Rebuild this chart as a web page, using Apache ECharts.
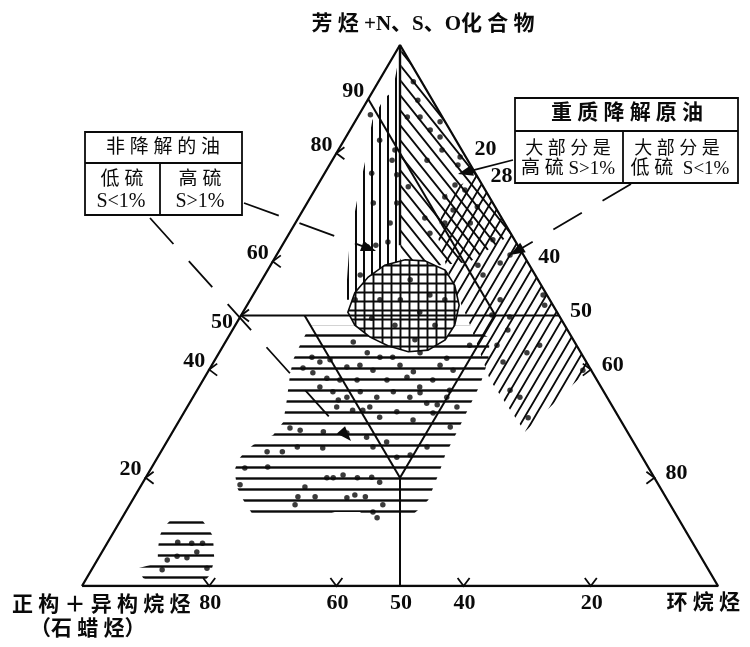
<!DOCTYPE html>
<html><head><meta charset="utf-8">
<script src="https://cdn.jsdelivr.net/npm/echarts/dist/echarts.min.js"></script>
<style>html,body{margin:0;padding:0;background:#fff}#c{width:750px;height:647px}</style>
</head><body><div id="c"></div>
<script>
// ===== DATA (ternary compositions: [aromatic+NSO %, naphthene %]; paraffin = 100 - A - N) =====
const leftTicks = [20, 40, 50, 60, 80, 90];          // aromatic %
const leftChevrons = [20, 40, 50, 60, 80];
const rightTicks = [20, 25, 40, 50, 60, 80];         // naphthene %
const rightTickLabels = ['20', '28', '40', '50', '60', '80'];
const rightChevrons = [60, 80];
const bottomTicks = [80, 60, 50, 40, 20];            // paraffin %
const bottomChevrons = [80, 60, 40, 20];

const triangle = [[0, 0], [100, 0], [0, 100], [0, 0]];
const lineA50 = [[50, 0], [50, 50]];
const lineP40 = [[50, 10], [20, 40]];
const lineN40 = [[50, 40], [20, 40]];
const linePNlow = [[20, 40], [0, 50]];
const lineP10 = [[90, 0], [50, 40]];
const linePNhigh = [[100, 0], [63, 18.5]];

const regionVertical = [[99, 0.5], [91.3, 3.2], [90.2, 2.4], [86.1, 2.6], [78.7, 5.2], [71.3, 7.6], [64, 10.1], [52.9, 15.0], [52.9, 23.6]];
const regionDiagDown = [[99.4, 0.5], [65, 35], [59.9, 31], [59.3, 26.6], [59.9, 20.1]];
const regionDiagUp = [[76, 24], [72.3, 21], [64.9, 23.4], [56.6, 29.6], [49.2, 36.1], [38.1, 45.1], [28.5, 55.4], [40.3, 59.7]];
const regionHoriz = [[48.1, 11.8], [48.1, 37.0], [45.8, 41.2], [41.8, 43.0], [37.2, 44.0], [33.5, 44.3], [28.8, 44.7], [24.2, 45.0], [21.4, 45.6], [17.7, 46.2], [15.9, 46.5], [14.0, 45.8], [12.0, 44.8], [12.0, 38.5], [13.7, 36.9], [13.7, 32.9], [12.0, 29.4], [12.0, 21.5], [14.0, 19.4], [15.9, 17.4], [18.3, 15.2], [21.4, 13.3], [23.3, 12.9], [24.8, 13.2], [26.1, 13.9], [27.9, 16.1], [30.3, 16.5], [34.4, 15.0], [39.0, 13.2], [41.8, 12.3], [44.6, 12.0]];
const regionSmall = [[12.0, 7.8], [12.0, 13.0], [10.5, 14.7], [9.2, 16.0], [4.8, 18.4], [3.3, 18.8], [1.85, 19.05], [0.37, 18.7], [0.37, 11.3], [1.5, 8.85], [3.3, 7.15], [4.25, 9.8], [6.65, 8.6], [9.2, 7.6], [10.7, 7.4]];
const regionBlob = [[50.6, 16.5], [54.2, 15.8], [57.1, 16.45], [59.3, 17.95], [60.3, 20.65], [60.1, 23.85], [58.4, 27.9], [55.6, 30.8], [51.9, 33.35], [48.2, 34.5], [45.5, 34.35], [43.6, 32.6], [43.3, 29.65], [44.4, 25.9], [46.0, 22.3], [48.2, 18.8]];

const samples = [
 [87.1,1.8],[76.3,7.4],[70.8,10.4],[80.6,8.9],[76.0,11.5],[70.8,14.1],[67.1,14.9],[78.7,9.4],[63.6,16.3],[62.7,13.5],[57.5,15.0],[52.9,16.5],[63.0,14.7],[82.4,5.6],
 [93.2,5.5],[86.7,7.8],[86.7,9.8],[85.8,13.4],[84.3,12.6],[83.0,14.8],[78.7,14.9],[80.6,16.3],[79.3,19.8],[77.8,20.2],[71.9,21.1],[68.0,19.9],[65.2,22.1],[69.5,23.6],[67.1,27.5],[67.1,23.5],[70.1,27.1],[74.1,21.6],[73.2,23.6],[73.8,14.4],[89.8,7.9],
 [64.0,32.6],[59.7,35.9],[59.3,32.6],[57.5,34.3],[53.8,45.6],[51.9,46.8],[50.1,39.4],[49.7,42.4],[47.3,43.3],[43.1,48.4],[41.4,45.5],[36.2,49.2],[34.9,51.4],[31.1,54.6],[39.9,58.8],[44.5,43.0],[52.9,39.3],[61.2,36.7],[44.5,49.7],
 [56.6,23.3],[53.8,27.8],[52.9,23.6],[50.6,27.8],[48.2,25.1],[48.2,31.4],[45.5,29.6],[52.9,20.4],[52.9,30.6],[49.5,20.8],
 [45.1,20.1],[43.1,23.3],[42.3,25.7],[42.3,27.7],[43.1,31.6],[42.1,36.3],[44.5,38.7],[42.3,15.0],[41.4,16.7],[41.8,18.1],[40.5,21.4],[40.8,23.3],[39.9,25.8],[40.8,29.6],[39.6,32.3],[40.8,35.9],[39.9,38.4],
 [40.3,14.6],[39.4,16.6],[38.4,19.3],[38.1,21.5],[38.1,24.2],[38.1,28.9],[38.6,31.8],[36.8,34.7],[38.1,36.1],[36.2,39.7],[36.8,19.0],[35.9,21.5],[34.9,24.2],[35.9,25.8],[34.9,28.9],[35.9,31.0],[34.9,34.1],[33.8,37.3],[34.9,39.9],[33.1,42.4],
 [33.1,23.5],[32.5,26.3],[33.1,28.7],[31.2,31.2],[32.2,33.4],[30.7,36.7],[32.0,39.2],[29.4,43.2],[29.2,18.1],[28.8,19.9],[28.5,23.7],[28.3,27.5],[27.5,31.0],[26.6,34.6],[23.8,37.6],[24.2,39.5],[25.7,41.4],[25.7,32.9],
 [24.8,16.7],[24.8,19.1],[25.7,21.0],[25.5,25.1],[22.0,18.2],[20.0,28.5],[20.0,29.5],[20.5,30.8],[20.0,33.3],[20.1,35.5],[19.2,37.2],[18.3,25.9],[16.5,25.7],[16.5,28.4],[16.3,33.5],[16.8,34.5],[16.5,36.3],[15.0,39.8],[13.7,38.9],[12.6,40.1],[15.0,26.0],[21.8,14.7],[18.7,15.5],[32.5,27.9],[34.4,23.1],[35.7,35.3],[33.5,39.1],
 [8.1,11.0],[7.9,13.3],[7.9,15.0],[5.5,12.2],[5.2,13.9],[6.3,14.9],[4.8,11.0],[3.0,11.1],[3.3,18.0]
];

// ===== helpers =====
function toXY(t) { return [t[1] + t[0] / 2, t[0]]; }   // ternary -> cartesian (x: N + A/2, y: A)
const INK = '#0a0a0a';
const NUMFONT = 'bold 22px "Liberation Serif", serif';
const CJK = '"Liberation Serif", "Noto Sans CJK SC", serif';

function makePattern(w, h, lw, draw) {
  const c = document.createElement('canvas'); c.width = w; c.height = h;
  const g = c.getContext('2d'); g.strokeStyle = INK; g.lineWidth = lw;
  g.beginPath(); draw(g, w, h); g.stroke();
  return { image: c, repeat: 'repeat' };
}
const patVert = makePattern(8, 8, 2, (g, w, h) => { g.moveTo(w / 2, 0); g.lineTo(w / 2, h); });
const patHoriz = makePattern(10, 11, 2.4, (g, w, h) => { g.moveTo(0, h / 2); g.lineTo(w, h / 2); });
const patDown = makePattern(12, 15, 1.9, (g, w, h) => { for (const k of [-1, 0, 1]) { g.moveTo(k * w - w, -h); g.lineTo(k * w + 2 * w, 2 * h); } });
const patUp = makePattern(10, 17, 1.9, (g, w, h) => { for (const k of [-1, 0, 1]) { g.moveTo(k * w - w, 2 * h); g.lineTo(k * w + 2 * w, -h); } });
const patGrid = makePattern(9, 9, 1.9, (g, w, h) => { g.moveTo(w / 2, 0); g.lineTo(w / 2, h); g.moveTo(0, h / 2); g.lineTo(w, h / 2); });

const regions = [regionVertical, regionDiagDown, regionDiagUp, regionHoriz, regionSmall, regionBlob];
const regionFills = [patVert, patDown, patUp, patHoriz, patHoriz, patGrid];

function lineSeries(pts, width) {
  return { type: 'line', data: pts.map(toXY), symbol: 'none', silent: true, z: 4,
    lineStyle: { color: INK, width: width || 2 } };
}

function tickSeries(ticks, labels, toTern, chevrons, arms, place) {
  return {
    type: 'custom', coordinateSystem: 'cartesian2d', silent: true, z: 6,
    encode: { x: 0, y: 1 },
    data: ticks.map((t, i) => { const xy = toXY(toTern(t)); return [xy[0], xy[1], i]; }),
    renderItem(params, api) {
      const i = api.value(2);
      const p = api.coord([api.value(0), api.value(1)]);
      const t = ticks[i];
      const children = [];
      if (chevrons.includes(t)) {
        children.push({ type: 'polyline', shape: { points: [[p[0] + arms[0][0], p[1] + arms[0][1]], [p[0], p[1]], [p[0] + arms[1][0], p[1] + arms[1][1]]] },
          style: { stroke: INK, lineWidth: 1.8, fill: null } });
      }
      const lab = place(t, p);
      children.push({ type: 'text', x: lab.x, y: lab.y,
        style: { text: labels[i], font: NUMFONT, fill: INK, align: lab.align, verticalAlign: 'middle', textAlign: lab.align, textVerticalAlign: 'middle' } });
      return { type: 'group', children };
    }
  };
}

function txt(text, x, y, size, align, weight) {
  return { type: 'text', x: x, y: y, z: 10, silent: true,
    style: { text: text, font: (weight || 'normal') + ' ' + size + 'px ' + CJK, fill: INK,
      align: align || 'center', verticalAlign: 'middle', textAlign: align || 'center', textVerticalAlign: 'middle' } };
}
function seg(x1, y1, x2, y2, dash, w) {
  return { type: 'line', z: 10, silent: true, shape: { x1, y1, x2, y2 },
    style: { stroke: INK, lineWidth: w || 1.8, lineDash: dash || null } };
}
function arrow(x1, y1, x2, y2, dash) {
  const dx = x2 - x1, dy = y2 - y1, L = Math.hypot(dx, dy), ux = dx / L, uy = dy / L;
  const hl = 15, hw = 5.5;
  const bx = x2 - ux * hl, by = y2 - uy * hl;
  return [seg(x1, y1, bx + ux * 2, by + uy * 2, dash),
    { type: 'polygon', z: 10, silent: true, shape: { points: [[x2, y2], [bx - uy * hw, by + ux * hw], [bx + uy * hw, by - ux * hw]] }, style: { fill: INK } }];
}

const series = [
  {
    type: 'custom', coordinateSystem: 'cartesian2d', silent: true, z: 2,
    data: regions.map((r, i) => [0, 0, i]),
    encode: { x: 0, y: 1 },
    renderItem(params, api) {
      const i = params.dataIndex;
      const pts = regions[i].map(p => api.coord(toXY(p)));
      const poly = { type: 'polygon', shape: { points: pts }, style: { fill: regionFills[i], stroke: null } };
      if (regionFills[i] === patGrid) {
        return { type: 'group', children: [
          { type: 'polygon', shape: { points: pts }, style: { fill: '#fff', stroke: null } },
          { type: 'polygon', shape: { points: pts }, style: { fill: regionFills[i], stroke: INK, lineWidth: 1.6 } }] };
      }
      return poly;
    }
  },
  lineSeries(triangle, 2.3),
  lineSeries(lineA50, 2), lineSeries(lineP40, 2), lineSeries(lineN40, 2),
  lineSeries(linePNlow, 2), lineSeries(lineP10, 2), lineSeries(linePNhigh, 2.4),
  { type: 'scatter', data: samples.map(toXY), symbol: 'circle', symbolSize: 5.5, silent: true, z: 5,
    itemStyle: { color: INK } },
  tickSeries(leftTicks, leftTicks.map(String), v => [v, 0], leftChevrons, [[8, -6], [8, 6]],
    (t, p) => t === 50 ? { x: p[0] - 8, y: p[1] + 7, align: 'right' } : { x: p[0] - 4, y: p[1] - 8, align: 'right' }),
  tickSeries(rightTicks, rightTickLabels, v => [100 - v, v], rightChevrons, [[-8, -6], [-8, 6]],
    (t, p) => ({ x: p[0] + 11, y: p[1] - 4, align: 'left' })),
  tickSeries(bottomTicks, bottomTicks.map(String), v => [0, 100 - v], bottomChevrons, [[-6, -8], [6, -8]],
    (t, p) => ({ x: p[0] + 1, y: p[1] + 17, align: 'center' }))
];

const graphics = [
  txt('芳 烃 +N、S、O化 合 物', 423, 25, 21, 'center', 'bold'),
  txt('正 构 ＋ 异 构 烷 烃', 12, 606, 21, 'left', 'bold'),
  txt('（石 蜡 烃）', 30, 630, 21, 'left', 'bold'),
  txt('环 烷 烃', 740, 604, 21, 'right', 'bold'),
  // box 1
  { type: 'rect', z: 10, silent: true, shape: { x: 85, y: 132, width: 157, height: 83 }, style: { fill: '#fff', stroke: INK, lineWidth: 1.8 } },
  seg(85, 163, 242, 163), seg(160, 163, 160, 215),
  txt('非 降 解 的 油', 163, 148, 19),
  txt('低 硫', 122, 180, 19), txt('S<1%', 121, 202, 20),
  txt('高 硫', 200, 180, 19), txt('S>1%', 200, 202, 20),
  // box 2
  { type: 'rect', z: 10, silent: true, shape: { x: 515, y: 98, width: 223, height: 85 }, style: { fill: '#fff', stroke: INK, lineWidth: 1.8 } },
  seg(515, 131, 738, 131), seg(623, 131, 623, 183),
  txt('重 质 降 解 原 油', 627, 114, 21, 'center', 'bold'),
  txt('大 部 分 是', 568, 149, 18), txt('高 硫 S>1%', 568, 169, 19),
  txt('大 部 分 是', 677, 149, 18), txt('低 硫  S<1%', 680, 169, 19),
  ...arrow(150, 218, 351, 441, [35, 23]),
  ...arrow(244, 203, 376, 251, [37, 22]),
  ...arrow(513, 160, 458, 174),
  ...arrow(631, 184, 510, 255, [33, 24])
];

const chart = echarts.init(document.getElementById('c'), null, { renderer: 'canvas' });
chart.setOption({
  animation: false,
  backgroundColor: '#fff',
  grid: { left: 82, top: 45, width: 636, height: 541, show: false },
  xAxis: { type: 'value', min: 0, max: 100, show: false },
  yAxis: { type: 'value', min: 0, max: 100, show: false },
  series: series,
  graphic: { elements: graphics }
});
</script>
</body></html>
